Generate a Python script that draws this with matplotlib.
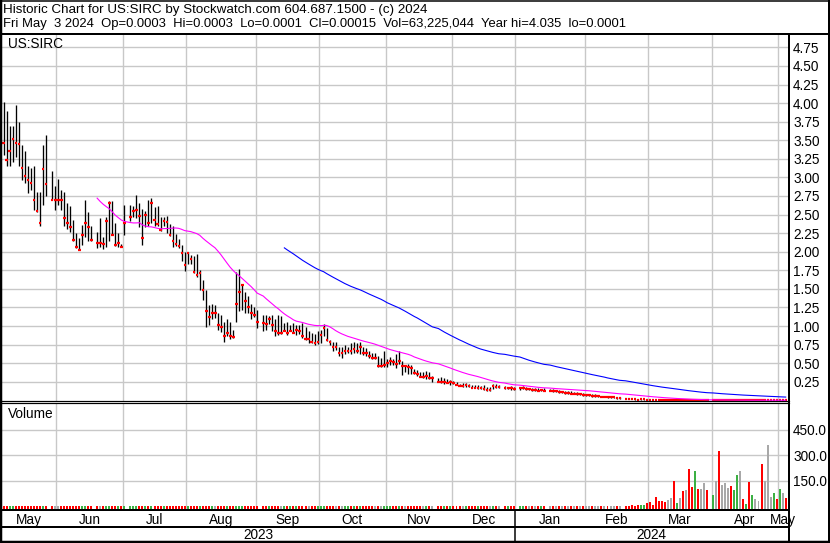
import numpy as np
import pandas as pd
import matplotlib
matplotlib.use("Agg")
import matplotlib.pyplot as plt

plt.rcParams['font.family'] = ['Liberation Sans', 'DejaVu Sans']

# ---- data -------------------------------------------------------------
first_day = '2023-05-08'
last_day = '2024-05-03'
holidays = ['2023-05-29', '2023-06-19', '2023-07-04', '2023-09-04', '2023-11-23',
            '2023-12-25', '2024-01-01', '2024-01-15', '2024-02-19', '2024-03-29']

high = [
    # May
    4.02, 3.89, 3.69, 3.69, 3.98, 3.74, 3.44, 3.36, 3.16, 3.13, 3.16, 2.81, 2.81, 3.44, 3.57, 3.08, 2.88,
    # Jun
    2.98, 2.83, 2.81, 2.66, 2.62, 2.43, 2.25, 2.19, 2.36, 2.70, 2.54, 2.34, 2.27, 2.46, 2.20, 2.47, 2.68, 2.68, 2.39, 2.25, 2.10,
    # Jul
    2.63, 2.63, 2.61, 2.77, 2.66, 2.58, 2.55, 2.70, 2.72, 2.60, 2.61, 2.47, 2.47, 2.48, 2.37, 2.35, 2.24, 2.17, 2.09, 1.99,
    # Aug
    1.99, 1.96, 1.94, 1.97, 1.75, 1.62, 1.48, 1.28, 1.29, 1.28, 1.18, 1.15, 1.05, 1.09, 1.06, 0.95, 1.73, 1.77, 1.55, 1.46, 1.40, 1.30, 1.25,
    # Sep
    1.22, 1.15, 1.15, 1.13, 1.15, 1.10, 1.15, 1.14, 1.04, 1.05, 1.02, 1.04, 1.02, 1.02, 1.04, 0.98, 0.93, 0.91, 0.89, 0.93,
    # Oct
    0.95, 1.03, 0.97, 0.81, 0.79, 0.78, 0.72, 0.72, 0.75, 0.72, 0.77, 0.79, 0.77, 0.79, 0.72, 0.70, 0.66, 0.64, 0.64, 0.59, 0.57, 0.66,
    # Nov
    0.55, 0.58, 0.56, 0.62, 0.67, 0.53, 0.48, 0.49, 0.47, 0.42, 0.41, 0.38, 0.38, 0.40, 0.38, 0.33, 0.30, 0.32, 0.30, 0.28, 0.27,
    # Dec
    0.26, 0.25, 0.22, 0.23, 0.23, 0.22, 0.21, 0.20, 0.20, 0.19, 0.20, 0.18, 0.18, 0.22, 0.22, 0.20, 0.19, 0.18, 0.19, 0.18,
    # Jan
    0.18, 0.19, 0.18, 0.17, 0.17, 0.16, 0.16, 0.15, 0.16, 0.15, 0.15, 0.14, 0.14, 0.13, 0.13, 0.12, 0.12, 0.11, 0.11, 0.10, 0.10,
    # Feb
    0.09, 0.08, 0.08, 0.08, 0.07, 0.06, 0.06, 0.05, 0.05, 0.05, 0.04, 0.04, 0.03, 0.025, 0.02, 0.016, 0.013, 0.014, 0.015, 0.012,
    # Mar
    0.008, 0.007, 0.006, 0.005, 0.004, 0.0035, 0.003, 0.003, 0.0028, 0.0026, 0.0025, 0.0022, 0.002, 0.0018, 0.0013, 0.0013,
    0.0012, 0.001, 0.001, 0.0009,
    # Apr
    0.001, 0.0009, 0.0008, 0.0007, 0.0007, 0.0007, 0.0006, 0.0007, 0.0008, 0.0008, 0.0007, 0.0007, 0.0006, 0.0006, 0.0006,
    0.0006, 0.0005, 0.0004, 0.0004, 0.0004, 0.0005, 0.0004,
    # May
    0.0004, 0.0004, 0.0003,
]
low = [
    3.30, 3.16, 3.15, 3.21, 3.28, 3.15, 2.97, 2.92, 2.79, 2.83, 2.56, 2.53, 2.34, 2.63, 2.75, 2.70, 2.56,
    2.63, 2.56, 2.35, 2.31, 2.27, 2.14, 2.05, 2.02, 2.09, 2.20, 2.14, 2.14, 2.05, 2.07, 2.04, 2.07, 2.14, 2.23, 2.08, 2.07, 2.06,
    2.23, 2.41, 2.47, 2.45, 2.33, 2.09, 2.33, 2.34, 2.38, 2.35, 2.34, 2.28, 2.35, 2.25, 2.21, 2.07, 2.08, 2.05, 1.87, 1.74,
    1.83, 1.83, 1.71, 1.66, 1.49, 1.35, 0.99, 1.02, 1.10, 1.11, 0.95, 0.92, 0.79, 0.86, 0.82, 0.84, 1.06, 1.20, 1.22, 1.18, 1.18, 1.10, 1.12,
    0.97, 0.93, 0.94, 1.03, 0.93, 0.86, 0.88, 0.89, 0.93, 0.88, 0.93, 0.90, 0.88, 0.89, 0.84, 0.81, 0.77, 0.77, 0.75, 0.76,
    0.77, 0.86, 0.80, 0.75, 0.66, 0.68, 0.59, 0.57, 0.62, 0.64, 0.62, 0.64, 0.64, 0.62, 0.61, 0.60, 0.57, 0.56, 0.55, 0.45, 0.45, 0.45,
    0.45, 0.48, 0.47, 0.44, 0.49, 0.34, 0.38, 0.36, 0.36, 0.35, 0.33, 0.31, 0.30, 0.29, 0.28, 0.25, 0.24, 0.23, 0.22, 0.23, 0.21,
    0.22, 0.20, 0.19, 0.18, 0.18, 0.18, 0.16, 0.16, 0.15, 0.15, 0.14, 0.13, 0.13, 0.15, 0.16, 0.16, 0.15, 0.15, 0.14, 0.14,
    0.14, 0.15, 0.14, 0.14, 0.13, 0.13, 0.12, 0.12, 0.12, 0.12, 0.11, 0.11, 0.10, 0.10, 0.09, 0.09, 0.08, 0.08, 0.07, 0.07, 0.06,
    0.06, 0.06, 0.05, 0.05, 0.05, 0.04, 0.04, 0.03, 0.03, 0.03, 0.02, 0.02, 0.016, 0.014, 0.012, 0.010, 0.008, 0.009, 0.010, 0.006,
    0.005, 0.004, 0.0035, 0.003, 0.0025, 0.002, 0.002, 0.002, 0.0018, 0.0018, 0.0018, 0.0015, 0.0015, 0.001, 0.0008, 0.0008,
    0.0007, 0.0007, 0.0007, 0.0006,
    0.0007, 0.0007, 0.0005, 0.0005, 0.0005, 0.0005, 0.0004, 0.0005, 0.0006, 0.0006, 0.0004, 0.0005, 0.0003, 0.0004, 0.0004,
    0.0004, 0.0002, 0.0002, 0.0002, 0.0002, 0.0003, 0.0002,
    0.0002, 0.0002, 0.0001,
]
close = [
    3.46, 3.23, 3.35, 3.52, 3.47, 3.45, 3.13, 3.02, 2.97, 2.93, 2.70, 2.55, 2.39, 3.11, 2.91, 2.70, 2.70,
    2.70, 2.69, 2.46, 2.39, 2.33, 2.16, 2.07, 2.02, 2.23, 2.39, 2.33, 2.16, 2.12, 2.12, 2.10, 2.41, 2.66, 2.23, 2.09, 2.12, 2.07,
    2.39, 2.47, 2.55, 2.56, 2.48, 2.19, 2.49, 2.39, 2.66, 2.43, 2.37, 2.29, 2.42, 2.40, 2.22, 2.15, 2.10, 2.08, 1.98, 1.82,
    1.98, 1.90, 1.73, 1.68, 1.72, 1.49, 1.20, 1.12, 1.18, 1.18, 1.02, 0.99, 0.87, 0.90, 0.86, 0.85, 1.29, 1.46, 1.55, 1.33, 1.25, 1.18, 1.15,
    1.05, 1.04, 1.03, 1.09, 1.02, 0.93, 0.90, 0.90, 0.93, 0.90, 0.93, 0.90, 0.95, 0.93, 0.86, 0.82, 0.82, 0.79, 0.77, 0.78,
    0.88, 0.97, 0.81, 0.78, 0.72, 0.72, 0.64, 0.64, 0.66, 0.67, 0.66, 0.69, 0.66, 0.72, 0.64, 0.63, 0.59, 0.57, 0.57, 0.46, 0.46, 0.48,
    0.50, 0.53, 0.52, 0.49, 0.53, 0.46, 0.46, 0.45, 0.44, 0.37, 0.36, 0.32, 0.32, 0.33, 0.30, 0.30, 0.25, 0.24, 0.25, 0.23, 0.24,
    0.23, 0.21, 0.19, 0.19, 0.20, 0.19, 0.17, 0.16, 0.17, 0.16, 0.15, 0.14, 0.14, 0.19, 0.18, 0.18, 0.16, 0.17, 0.16, 0.15,
    0.16, 0.17, 0.15, 0.15, 0.14, 0.14, 0.13, 0.14, 0.13, 0.13, 0.12, 0.12, 0.11, 0.11, 0.10, 0.10, 0.09, 0.09, 0.08, 0.08, 0.07,
    0.07, 0.07, 0.06, 0.06, 0.06, 0.05, 0.05, 0.04, 0.04, 0.04, 0.03, 0.03, 0.02, 0.018, 0.015, 0.012, 0.010, 0.011, 0.012, 0.008,
    0.006, 0.005, 0.004, 0.0035, 0.003, 0.0025, 0.0025, 0.0025, 0.002, 0.0022, 0.0022, 0.0018, 0.0018, 0.0012, 0.001, 0.0011,
    0.0009, 0.0009, 0.0009, 0.0007,
    0.0008, 0.0008, 0.0006, 0.0006, 0.0006, 0.0006, 0.0005, 0.0006, 0.0007, 0.0007, 0.0005, 0.0006, 0.0004, 0.0005, 0.0005,
    0.0005, 0.0003, 0.0003, 0.0003, 0.0003, 0.0004, 0.0002,
    0.0003, 0.0003, 0.00015,
]
# volume in millions of shares
volume = [
    1.6, 1.2, 0.9, 1.1, 1.4, 1.0, 0.9, 0.8, 1.0, 0.7, 1.1, 0.9, 1.2, 1.5, 1.0, 0.8, 0.7,
    0.9, 0.7, 0.8, 0.7, 0.6, 0.9, 0.8, 0.7, 0.9, 1.0, 0.8, 0.6, 0.7, 0.6, 0.6, 0.8, 0.9, 0.7, 0.6, 0.5, 0.5,
    0.6, 0.5, 0.6, 0.7, 0.6, 0.8, 0.7, 0.6, 0.8, 0.6, 0.5, 0.6, 0.5, 0.5, 0.6, 0.7, 0.6, 0.5, 0.7, 0.8,
    0.7, 0.6, 0.8, 0.7, 0.9, 1.1, 1.6, 1.0, 0.8, 0.7, 0.9, 0.8, 1.1, 0.9, 0.8, 0.7, 2.6, 1.9, 1.2, 1.0, 0.8, 0.7, 0.6,
    0.7, 0.6, 0.6, 0.5, 0.6, 0.7, 0.6, 0.6, 0.5, 0.6, 0.5, 0.5, 0.6, 0.5, 0.7, 0.6, 0.7, 0.6, 0.6, 0.5,
    0.6, 0.8, 0.7, 0.6, 0.7, 0.6, 0.8, 0.7, 0.6, 0.5, 0.6, 0.6, 0.5, 0.7, 0.6, 0.6, 0.7, 0.6, 0.6, 0.9, 0.8, 0.8,
    0.8, 0.7, 0.7, 0.8, 1.2, 1.0, 0.8, 0.7, 0.7, 0.9, 0.8, 0.8, 0.7, 0.7, 0.8, 0.7, 0.9, 0.8, 0.7, 0.8, 0.7,
    0.8, 0.9, 0.8, 0.9, 0.8, 0.7, 0.9, 0.8, 0.9, 0.8, 0.9, 1.0, 0.9, 1.3, 1.0, 0.9, 1.0, 0.9, 1.0, 1.1,
    1.0, 1.2, 1.1, 1.0, 1.2, 1.1, 1.3, 1.2, 1.4, 1.2, 1.5, 1.3, 1.6, 1.4, 1.7, 1.5, 1.8, 1.6, 2.0, 1.9, 2.2,
    2.4, 2.2, 2.8, 2.5, 3.0, 2.7, 3.4, 3.1, 3.8, 3.3, 4.4, 5.0, 5, 4, 6, 5, 7, 9, 9, 21,
    29, 9, 58, 33, 33, 29, 39, 52, 150, 23, 52, 91, 97, 220, 115, 210, 105, 105, 140, 97,
    68, 148, 326, 127, 136, 111, 121, 97, 185, 210, 45, 17, 146, 68, 46, 33, 251, 148, 361, 58, 81, 45,
    103, 80, 50,
]

price_ticks = [0.25, 0.50, 0.75, 1.00, 1.25, 1.50, 1.75, 2.00, 2.25, 2.50, 2.75, 3.00,
               3.25, 3.50, 3.75, 4.00, 4.25, 4.50, 4.75]
volume_ticks = [150, 300, 450]
ma_periods = [30, 90]
ma_colors = ['#ff00ff', '#0000ff']

title_line1 = "Historic Chart for US:SIRC by Stockwatch.com 604.687.1500 - (c) 2024"
title_line2 = ("Fri May  3 2024  Op=0.0003  Hi=0.0003  Lo=0.0001  Cl=0.00015  "
               "Vol=63,225,044  Year hi=4.035  lo=0.0001")
symbol = "US:SIRC"

# ---- positions ----------------------------------------------------------
weekdays = pd.bdate_range(first_day, last_day)
days = weekdays[~weekdays.isin(pd.to_datetime(holidays))]
x = weekdays.get_indexer(days)
high = np.array(high)
low = np.array(low)
close = np.array(close)
volume = np.array(volume, dtype=float)
assert len(days) == len(high) == len(low) == len(close) == len(volume)

wd = pd.Series(np.arange(len(weekdays)), index=weekdays)
mg = wd.groupby([weekdays.year, weekdays.month])
m_first = mg.min().values
m_last = mg.max().values
m_names = [pd.Timestamp(y, m, 1).strftime('%b') for y, m in mg.min().index]
yg = wd.groupby(weekdays.year)
y_first = yg.min().values
y_last = yg.max().values
y_names = [str(y) for y in yg.min().index]
month_edges = m_first[1:] - 0.5

chg = np.sign(np.diff(close, prepend=close[0] * 2))
vol_colors = np.where(chg > 0, '#3cb043', np.where(chg < 0, '#ff0000', '#a8a8a8'))

# ---- figure -------------------------------------------------------------
W, H = 830, 543
fig = plt.figure(figsize=(W / 100, H / 100), dpi=100, facecolor='white')
FS = 9.8
FS_HEAD = 9.6
GRID = '#c8c8c8'


def box(x0, y0, x1, y1):
    return [x0 / W, 1 - y1 / H, (x1 - x0) / W, (y1 - y0) / H]


XL = (-0.5, 260.1)

# price panel
axp = fig.add_axes(box(2, 35, 789, 401))
axp.set_xlim(*XL)
axp.set_ylim(-0.0094, 4.917)
axp.set_yticks(price_ticks)
axp.set_yticklabels(['%.2f' % t for t in price_ticks])
axp.set_xticks(month_edges)
axp.grid(True, color=GRID, lw=1.0)
axp.set_axisbelow(True)
axp.yaxis.tick_right()
axp.tick_params(axis='y', length=0, pad=3, labelsize=FS)
axp.tick_params(axis='x', length=0, labelbottom=False)
for s in axp.spines.values():
    s.set_visible(False)
axp.vlines(x, low, high, color='black', lw=0.95)
axp.hlines(close, x - 0.35, x + 0.55, color='#ff0000', lw=1.6)
cs = pd.Series(close)
for n, c in zip(ma_periods, ma_colors):
    axp.plot(x, cs.rolling(n).mean(), color=c, lw=0.8)
axp.text(0.008, 0.975, symbol, transform=axp.transAxes, fontsize=FS,
         ha='left', va='center')

# volume panel
VLO = -17.5
axv = fig.add_axes(box(2, 403, 789, 509.5))
axv.set_xlim(*XL)
axv.set_ylim(VLO, 605)
axv.set_yticks(volume_ticks)
axv.set_yticklabels(['%.1f' % t for t in volume_ticks])
axv.set_xticks(month_edges)
axv.grid(True, color=GRID, lw=1.0)
axv.set_axisbelow(True)
axv.yaxis.tick_right()
axv.tick_params(axis='y', length=0, pad=3, labelsize=FS)
axv.tick_params(axis='x', length=0, labelbottom=False)
for s in axv.spines.values():
    s.set_visible(False)
axv.bar(x, volume - VLO, bottom=VLO, width=0.66, color=vol_colors, linewidth=0)
axv.text(0.008, 0.9, 'Volume', transform=axv.transAxes, fontsize=FS, ha='left', va='center')

# month row and year row
axm = fig.add_axes(box(2, 510.5, 789, 527))
axy = fig.add_axes(box(2, 528, 789, 541))
for a in (axm, axy):
    a.set_xlim(*XL)
    a.set_ylim(0, 1)
    a.axis('off')
for f, l, nm in zip(m_first, m_last, m_names):
    axm.text((f + l) / 2, 0.45, nm, ha='center', va='center', fontsize=FS, clip_on=False)
for f, l, nm in zip(y_first, y_last, y_names):
    axy.text((f + l) / 2, 0.45, nm, ha='center', va='center', fontsize=FS)

# frame lines in pixel coordinates
ov = fig.add_axes([0, 0, 1, 1], zorder=10)
ov.set_xlim(0, W)
ov.set_ylim(H, 0)
ov.axis('off')
K = 'black'
px = 0.72  # points per pixel
ov.plot([0, W], [34, 34], color=K, lw=2 * px)
ov.plot([0, 789], [400.8, 400.8], color=K, lw=1.2 * px)
ov.plot([0, 789], [402.8, 402.8], color=K, lw=1.2 * px)
ov.plot([0, 789], [510, 510], color=K, lw=2 * px)
ov.plot([0, 789], [527.3, 527.3], color=K, lw=2 * px)
ov.plot([789, 789], [34, H], color=K, lw=2 * px)
jan_px = 2 + (month_edges[m_names[1:].index('Jan')] + 0.5) * 787 / (XL[1] - XL[0])
ov.plot([jan_px, jan_px], [510, H], color=K, lw=1.5 * px)
ov.plot([1, 1], [0, H], color=K, lw=2.5 * px)
ov.plot([0, W], [542, 542], color=K, lw=2.5 * px)
ov.plot([0, W], [0.5, 0.5], color=K, lw=1.5 * px)
ov.plot([W - 1, W - 1], [0, H], color=K, lw=2 * px)
ov.text(3, 9.5, title_line1, fontsize=FS_HEAD, ha='left', va='center')
ov.text(3, 23.5, title_line2, fontsize=9.35, ha='left', va='center')

fig.savefig('out.png', dpi=100, facecolor='white')
